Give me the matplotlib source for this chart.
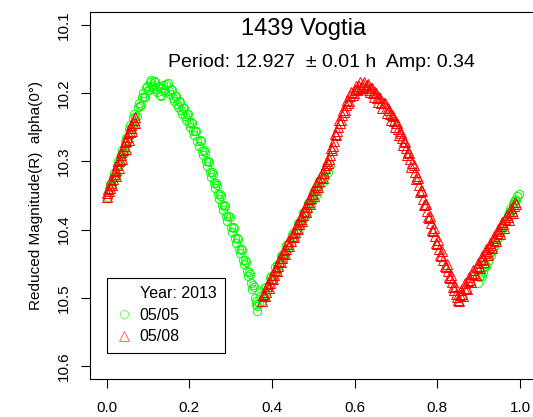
import matplotlib
matplotlib.use('Agg')
import matplotlib.pyplot as plt
from matplotlib.lines import Line2D

plt.rcParams['font.family'] = ['Liberation Sans', 'DejaVu Sans']

# 05/05 session (green circles)
phase_0505 = [
    0.000, 0.005, 0.010, 0.015, 0.020, 0.025, 0.030, 0.035, 0.040, 0.045,
    0.050, 0.055, 0.060, 0.065, 0.070, 0.075, 0.080, 0.085, 0.090, 0.095,
    0.100, 0.105, 0.110, 0.115, 0.120, 0.125, 0.130, 0.135, 0.140, 0.145,
    0.150, 0.155, 0.160, 0.165, 0.170, 0.175, 0.180, 0.185, 0.190, 0.195,
    0.200, 0.205, 0.210, 0.215, 0.220, 0.225, 0.230, 0.235, 0.240, 0.245,
    0.250, 0.255, 0.260, 0.265, 0.270, 0.275, 0.280, 0.285, 0.290, 0.295,
    0.300, 0.305, 0.310, 0.315, 0.320, 0.325, 0.330, 0.335, 0.340, 0.345,
    0.350, 0.355, 0.360, 0.365,
    0.0025, 0.0075, 0.0125, 0.0175, 0.0225, 0.0275, 0.0325, 0.0375, 0.0425, 0.0475,
    0.0525, 0.0575, 0.0625, 0.0675, 0.0725, 0.0775, 0.0825, 0.0875, 0.0925, 0.0975,
    0.1025, 0.1075, 0.1125, 0.1175, 0.1225, 0.1275, 0.1325, 0.1375, 0.1425, 0.1475,
    0.1525, 0.1575, 0.1625, 0.1675, 0.1725, 0.1775, 0.1825, 0.1875, 0.1925, 0.1975,
    0.2025, 0.2075, 0.2125, 0.2175, 0.2225, 0.2275, 0.2325, 0.2375, 0.2425, 0.2475,
    0.2525, 0.2575, 0.2625, 0.2675, 0.2725, 0.2775, 0.2825, 0.2875, 0.2925, 0.2975,
    0.3025, 0.3075, 0.3125, 0.3175, 0.3225, 0.3275, 0.3325, 0.3375, 0.3425, 0.3475,
    0.3525, 0.3575, 0.3625, 0.361, 0.364,
    0.368, 0.372, 0.378, 0.385, 0.392, 0.398, 0.405, 0.412, 0.418, 0.425,
    0.432, 0.438, 0.445, 0.452, 0.458, 0.465, 0.472, 0.478, 0.485, 0.492,
    0.498, 0.505, 0.512, 0.518, 0.525, 0.532, 0.540,
    0.375, 0.382, 0.388, 0.395, 0.402, 0.408, 0.415, 0.422, 0.428, 0.435,
    0.442, 0.448, 0.455, 0.462, 0.468, 0.475, 0.482, 0.488, 0.495, 0.502,
    0.508, 0.515, 0.522, 0.528, 0.535,
    0.898, 0.904, 0.910, 0.916, 0.922, 0.928, 0.934, 0.940, 0.946, 0.952,
    0.958, 0.964, 0.970, 0.976, 0.982, 0.988, 0.994,
    0.901, 0.907, 0.913, 0.919, 0.925, 0.931, 0.937, 0.943, 0.949, 0.955,
    0.961, 0.967, 0.973, 0.979, 0.985, 0.991, 0.997,
]
mag_0505 = [
    10.354, 10.340, 10.338, 10.324, 10.323, 10.307, 10.306, 10.290, 10.289, 10.272,
    10.270, 10.253, 10.252, 10.236, 10.235, 10.220, 10.219, 10.205, 10.206, 10.193,
    10.196, 10.184, 10.189, 10.182, 10.194, 10.191, 10.202, 10.193, 10.196, 10.186,
    10.197, 10.194, 10.207, 10.204, 10.216, 10.212, 10.225, 10.222, 10.234, 10.231,
    10.244, 10.242, 10.256, 10.255, 10.270, 10.269, 10.285, 10.284, 10.300, 10.300,
    10.316, 10.316, 10.332, 10.332, 10.348, 10.348, 10.364, 10.364, 10.380, 10.380,
    10.396, 10.396, 10.412, 10.412, 10.428, 10.428, 10.444, 10.445, 10.461, 10.462,
    10.479, 10.481, 10.500, 10.512,
    10.352, 10.333, 10.336, 10.317, 10.321, 10.300, 10.304, 10.283, 10.287, 10.265,
    10.268, 10.246, 10.250, 10.230, 10.233, 10.214, 10.217, 10.200, 10.205, 10.189,
    10.196, 10.180, 10.192, 10.183, 10.199, 10.190, 10.204, 10.188, 10.199, 10.185,
    10.201, 10.195, 10.212, 10.204, 10.220, 10.213, 10.230, 10.222, 10.239, 10.231,
    10.250, 10.243, 10.262, 10.256, 10.277, 10.270, 10.291, 10.286, 10.307, 10.301,
    10.323, 10.318, 10.339, 10.334, 10.355, 10.350, 10.371, 10.366, 10.387, 10.382,
    10.403, 10.398, 10.419, 10.414, 10.435, 10.430, 10.451, 10.447, 10.468, 10.465,
    10.487, 10.484, 10.509, 10.505, 10.519,
    10.507, 10.498, 10.497, 10.484, 10.481, 10.468, 10.466, 10.452, 10.451, 10.437,
    10.435, 10.421, 10.420, 10.405, 10.404, 10.390, 10.388, 10.374, 10.373, 10.358,
    10.357, 10.342, 10.341, 10.326, 10.325, 10.310, 10.306,
    10.505, 10.486, 10.490, 10.471, 10.473, 10.455, 10.458, 10.439, 10.443, 10.423,
    10.426, 10.408, 10.411, 10.391, 10.395, 10.376, 10.379, 10.361, 10.363, 10.344,
    10.348, 10.329, 10.332, 10.314, 10.316,
    10.478, 10.466, 10.462, 10.450, 10.446, 10.434, 10.429, 10.418, 10.412, 10.402,
    10.395, 10.386, 10.378, 10.370, 10.362, 10.356, 10.350,
    10.470, 10.468, 10.455, 10.453, 10.439, 10.437, 10.424, 10.420, 10.408, 10.404,
    10.391, 10.388, 10.376, 10.372, 10.360, 10.356, 10.348,
]

# 05/08 session (red triangles)
phase_0508 = [
    0.000, 0.004, 0.008, 0.012, 0.016, 0.020, 0.024, 0.028, 0.032, 0.036,
    0.040, 0.044, 0.048, 0.052, 0.056, 0.060, 0.064, 0.068,
    0.002, 0.006, 0.010, 0.014, 0.018, 0.022, 0.026, 0.030, 0.034, 0.038,
    0.042, 0.046, 0.050, 0.054, 0.058, 0.062, 0.066, 0.070,
    0.375, 0.380, 0.385, 0.390, 0.395, 0.400, 0.405, 0.410, 0.415, 0.420,
    0.425, 0.430, 0.435, 0.440, 0.445, 0.450, 0.455, 0.460, 0.465, 0.470,
    0.475, 0.480, 0.485, 0.490, 0.495, 0.500, 0.505, 0.510, 0.515, 0.520,
    0.525, 0.530, 0.535, 0.540, 0.545, 0.550, 0.555, 0.560, 0.565, 0.570,
    0.575, 0.580, 0.585, 0.590, 0.595, 0.600, 0.605, 0.610, 0.615, 0.620,
    0.625, 0.630, 0.635, 0.640, 0.645, 0.650, 0.655, 0.660, 0.665, 0.670,
    0.675, 0.680, 0.685, 0.690, 0.695, 0.700, 0.705, 0.710, 0.715, 0.720,
    0.725, 0.730, 0.735, 0.740, 0.745, 0.750, 0.755, 0.760, 0.765, 0.770,
    0.775, 0.780, 0.785, 0.790, 0.795, 0.800, 0.805, 0.810, 0.815, 0.820,
    0.825, 0.830, 0.835, 0.840, 0.845, 0.850, 0.855, 0.860, 0.865, 0.870,
    0.875, 0.880, 0.885, 0.890, 0.895, 0.900, 0.905, 0.910, 0.915, 0.920,
    0.925, 0.930, 0.935, 0.940, 0.945, 0.950, 0.955, 0.960, 0.965, 0.970,
    0.975, 0.980, 0.985, 0.990,
    0.3775, 0.3825, 0.3875, 0.3925, 0.3975, 0.4025, 0.4075, 0.4125, 0.4175, 0.4225,
    0.4275, 0.4325, 0.4375, 0.4425, 0.4475, 0.4525, 0.4575, 0.4625, 0.4675, 0.4725,
    0.4775, 0.4825, 0.4875, 0.4925, 0.4975, 0.5025, 0.5075, 0.5125, 0.5175, 0.5225,
    0.5275, 0.5325, 0.5375, 0.5425, 0.5475, 0.5525, 0.5575, 0.5625, 0.5675, 0.5725,
    0.5775, 0.5825, 0.5875, 0.5925, 0.5975, 0.6025, 0.6075, 0.6125, 0.6175, 0.6225,
    0.6275, 0.6325, 0.6375, 0.6425, 0.6475, 0.6525, 0.6575, 0.6625, 0.6675, 0.6725,
    0.6775, 0.6825, 0.6875, 0.6925, 0.6975, 0.7025, 0.7075, 0.7125, 0.7175, 0.7225,
    0.7275, 0.7325, 0.7375, 0.7425, 0.7475, 0.7525, 0.7575, 0.7625, 0.7675, 0.7725,
    0.7775, 0.7825, 0.7875, 0.7925, 0.7975, 0.8025, 0.8075, 0.8125, 0.8175, 0.8225,
    0.8275, 0.8325, 0.8375, 0.8425, 0.8475, 0.8525, 0.8575, 0.8625, 0.8675, 0.8725,
    0.8775, 0.8825, 0.8875, 0.8925, 0.8975, 0.9025, 0.9075, 0.9125, 0.9175, 0.9225,
    0.9275, 0.9325, 0.9375, 0.9425, 0.9475, 0.9525, 0.9575, 0.9625, 0.9675, 0.9725,
    0.9775, 0.9825, 0.9875,
]
mag_0508 = [
    10.352, 10.341, 10.339, 10.327, 10.326, 10.314, 10.312, 10.299, 10.298, 10.286,
    10.284, 10.272, 10.270, 10.259, 10.257, 10.246, 10.243, 10.235,
    10.347, 10.343, 10.331, 10.335, 10.318, 10.322, 10.305, 10.309, 10.291, 10.296,
    10.278, 10.282, 10.264, 10.268, 10.251, 10.255, 10.239, 10.243,
    10.505, 10.494, 10.492, 10.480, 10.479, 10.467, 10.467, 10.455, 10.454, 10.442,
    10.442, 10.430, 10.429, 10.417, 10.417, 10.405, 10.404, 10.392, 10.392, 10.380,
    10.379, 10.367, 10.367, 10.355, 10.354, 10.342, 10.342, 10.330, 10.329, 10.317,
    10.317, 10.305, 10.302, 10.290, 10.284, 10.270, 10.262, 10.250, 10.243, 10.232,
    10.228, 10.217, 10.214, 10.204, 10.203, 10.195, 10.196, 10.189, 10.192, 10.186,
    10.192, 10.188, 10.195, 10.193, 10.200, 10.199, 10.207, 10.206, 10.214, 10.214,
    10.222, 10.222, 10.231, 10.232, 10.241, 10.243, 10.253, 10.256, 10.266, 10.270,
    10.281, 10.286, 10.297, 10.303, 10.315, 10.321, 10.335, 10.342, 10.355, 10.363,
    10.373, 10.383, 10.391, 10.402, 10.410, 10.421, 10.428, 10.438, 10.445, 10.455,
    10.461, 10.471, 10.477, 10.488, 10.494, 10.503, 10.496, 10.495, 10.486, 10.485,
    10.476, 10.474, 10.465, 10.464, 10.455, 10.453, 10.445, 10.443, 10.435, 10.432,
    10.425, 10.422, 10.415, 10.412, 10.405, 10.402, 10.395, 10.392, 10.385, 10.382,
    10.375, 10.372, 10.365, 10.362,
    10.496, 10.497, 10.483, 10.485, 10.471, 10.473, 10.459, 10.461, 10.446, 10.448,
    10.434, 10.436, 10.421, 10.424, 10.409, 10.411, 10.397, 10.399, 10.385, 10.387,
    10.372, 10.374, 10.360, 10.362, 10.348, 10.350, 10.335, 10.337, 10.323, 10.325,
    10.310, 10.300, 10.297, 10.280, 10.278, 10.260, 10.256, 10.240, 10.239, 10.224,
    10.224, 10.210, 10.211, 10.198, 10.200, 10.189, 10.194, 10.184, 10.191, 10.183,
    10.193, 10.187, 10.199, 10.193, 10.205, 10.200, 10.213, 10.207, 10.221, 10.215,
    10.229, 10.224, 10.239, 10.233, 10.250, 10.244, 10.262, 10.258, 10.276, 10.272,
    10.291, 10.288, 10.308, 10.306, 10.326, 10.325, 10.345, 10.344, 10.364, 10.362,
    10.382, 10.380, 10.401, 10.398, 10.419, 10.415, 10.437, 10.432, 10.454, 10.450,
    10.470, 10.466, 10.484, 10.482, 10.499, 10.505, 10.489, 10.497, 10.479, 10.487,
    10.469, 10.477, 10.459, 10.467, 10.449, 10.457, 10.439, 10.447, 10.429, 10.437,
    10.419, 10.427, 10.409, 10.417, 10.399, 10.407, 10.389, 10.397, 10.379, 10.386,
    10.369, 10.376, 10.359,
]

xticks = [0.0, 0.2, 0.4, 0.6, 0.8, 1.0]
yticks = [10.1, 10.2, 10.3, 10.4, 10.5, 10.6]

fig = plt.figure(figsize=(5.33, 4.17), dpi=100)
ax = fig.add_axes([90 / 533, 38 / 417, 446.5 / 533, 367 / 417])

ax.plot(phase_0505, mag_0505, linestyle='none', marker='o', markersize=6,
        markerfacecolor='none', markeredgecolor='#00ff00', markeredgewidth=0.7)
ax.plot(phase_0508, mag_0508, linestyle='none', marker='^', markersize=6.5,
        markerfacecolor='none', markeredgecolor='#ff0000', markeredgewidth=0.7)

ax.set_xlim(-0.04, 1.04)
ax.set_ylim(10.619, 10.081)
ax.set_xticks(xticks)
ax.set_xticklabels(['%.1f' % t for t in xticks])
ax.set_yticks(yticks)
ax.set_yticklabels(['%.1f' % t for t in yticks], rotation=90, va='center')
ax.tick_params(direction='out', length=6.5, width=0.8, labelsize=11, color='black')
ax.tick_params(axis='x', pad=9.5)
ax.tick_params(axis='y', pad=7)
for s in ax.spines.values():
    s.set_linewidth(0.8)

ax.set_ylabel('Reduced Magnitude(R)  alpha(0°)', fontsize=11, labelpad=10)

fig.text(0.570, 0.930, '1439 Vogtia', fontsize=17, ha='center', va='center')
fig.text(0.604, 0.851, 'Period: 12.927  \u00b1 0.01 h  Amp: 0.34', fontsize=14,
         ha='center', va='center')

handles = [
    Line2D([], [], linestyle='none', marker=None),
    Line2D([], [], linestyle='none', marker='o', markersize=6, markerfacecolor='none',
           markeredgecolor='#00ff00', markeredgewidth=0.7, alpha=0.6),
    Line2D([], [], linestyle='none', marker='^', markersize=6.5, markerfacecolor='none',
           markeredgecolor='#ff0000', markeredgewidth=0.7, alpha=0.6),
]
leg = ax.legend(handles, ['Year: 2013', '05/05', '05/08'], loc='lower left',
                bbox_to_anchor=(0.0381, 0.0708), borderaxespad=0, fontsize=11.5,
                fancybox=False, framealpha=1, edgecolor='black', handlelength=1.0,
                handletextpad=0.5, labelspacing=0.4, borderpad=0.55)
leg.get_frame().set_linewidth(0.8)

fig.savefig('out.png', dpi=100)
